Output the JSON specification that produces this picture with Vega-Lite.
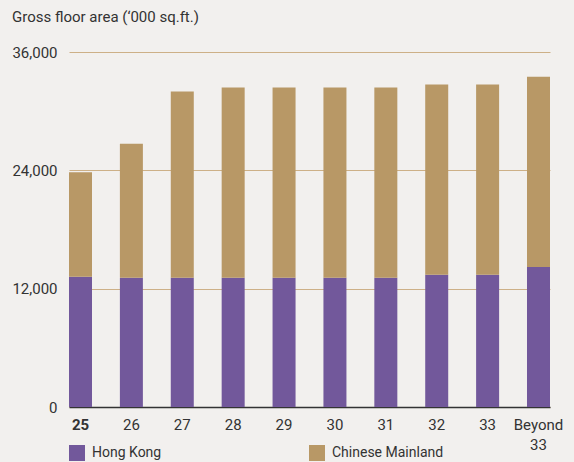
{
  "$schema": "https://vega.github.io/schema/vega-lite/v6.json",
  "width": 481,
  "height": 355,
  "autosize": {"type": "none"},
  "padding": {"left": 69, "top": 52, "right": 24, "bottom": 55},
  "background": "#F2F0EE",
  "title": {
    "text": "Gross floor area (‘000 sq.ft.)",
    "anchor": "start",
    "frame": "group",
    "dx": -57,
    "offset": 20,
    "fontSize": 15,
    "fontWeight": "normal",
    "font": "Roboto",
    "color": "#333333"
  },
  "data": {
    "values": [
      {"year": "25", "segment": "Hong Kong", "gfa": 13200},
      {"year": "25", "segment": "Chinese Mainland", "gfa": 10600},
      {"year": "26", "segment": "Hong Kong", "gfa": 13100},
      {"year": "26", "segment": "Chinese Mainland", "gfa": 13600},
      {"year": "27", "segment": "Hong Kong", "gfa": 13100},
      {"year": "27", "segment": "Chinese Mainland", "gfa": 18900},
      {"year": "28", "segment": "Hong Kong", "gfa": 13100},
      {"year": "28", "segment": "Chinese Mainland", "gfa": 19300},
      {"year": "29", "segment": "Hong Kong", "gfa": 13100},
      {"year": "29", "segment": "Chinese Mainland", "gfa": 19300},
      {"year": "30", "segment": "Hong Kong", "gfa": 13100},
      {"year": "30", "segment": "Chinese Mainland", "gfa": 19300},
      {"year": "31", "segment": "Hong Kong", "gfa": 13100},
      {"year": "31", "segment": "Chinese Mainland", "gfa": 19300},
      {"year": "32", "segment": "Hong Kong", "gfa": 13400},
      {"year": "32", "segment": "Chinese Mainland", "gfa": 19300},
      {"year": "33", "segment": "Hong Kong", "gfa": 13400},
      {"year": "33", "segment": "Chinese Mainland", "gfa": 19300},
      {"year": "Beyond 33", "segment": "Hong Kong", "gfa": 14200},
      {"year": "Beyond 33", "segment": "Chinese Mainland", "gfa": 19300}
    ]
  },
  "mark": {"type": "bar"},
  "encoding": {
    "x": {
      "field": "year",
      "type": "nominal",
      "sort": null,
      "scale": {"paddingInner": 0.548, "paddingOuter": 0},
      "axis": {
        "title": null,
        "labelAngle": 0,
        "ticks": false,
        "domainColor": "#333333",
        "domainWidth": 1.5,
        "labelPadding": 10,
        "labelFontSize": 15,
        "labelLineHeight": 20,
        "labelColor": "#333333",
        "labelExpr": "datum.value == 'Beyond 33' ? ['Beyond', '33'] : datum.value",
        "labelFontWeight": {"condition": {"test": "datum.value == '25'", "value": "bold"}, "value": "normal"}
      }
    },
    "y": {
      "field": "gfa",
      "type": "quantitative",
      "stack": "zero",
      "scale": {"domain": [0, 36000], "nice": false},
      "axis": {
        "title": null,
        "values": [0, 12000, 24000, 36000],
        "format": ",.0f",
        "domain": false,
        "ticks": false,
        "labelPadding": 12,
        "labelFontSize": 15,
        "labelColor": "#333333",
        "gridColor": "#CDB087",
        "gridWidth": 1.2
      }
    },
    "color": {
      "field": "segment",
      "type": "nominal",
      "scale": {"domain": ["Hong Kong", "Chinese Mainland"], "range": ["#72589B", "#B89866"]},
      "legend": {
        "title": null,
        "orient": "none",
        "legendX": 0,
        "legendY": 393,
        "direction": "horizontal",
        "columns": 2,
        "columnPadding": 147,
        "symbolType": "square",
        "symbolSize": 256,
        "symbolStrokeWidth": 0,
        "labelFontSize": 14,
        "labelOffset": 7,
        "labelColor": "#333333"
      }
    },
    "order": {"field": "segment", "sort": "descending"}
  },
  "config": {
    "font": "Roboto",
    "view": {"stroke": null}
  }
}
